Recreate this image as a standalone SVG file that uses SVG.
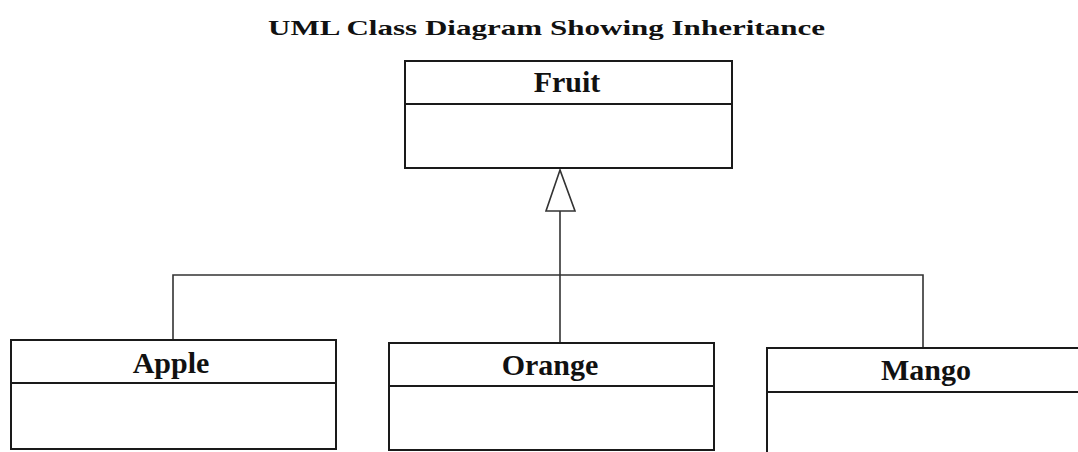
<svg xmlns="http://www.w3.org/2000/svg" width="1078" height="452" viewBox="0 0 1078 452">
<style>
.box{fill:#fff;stroke:#1a1a1a;stroke-width:2}
.div{stroke:#1a1a1a;stroke-width:2}
.lbl{font-family:"Liberation Serif","Times New Roman",serif;font-weight:bold;font-size:30px;fill:#111;text-anchor:middle}
.title{font-family:"Liberation Serif","DejaVu Serif",serif;font-weight:bold;font-size:21px;fill:#111;text-anchor:middle}
.con{fill:none;stroke:#333;stroke-width:1.6}
</style>
<rect width="1078" height="452" fill="#fff"/>
<text class="title" x="546.5" y="35" textLength="557" lengthAdjust="spacingAndGlyphs">UML Class Diagram Showing Inheritance</text>
<g id="connectors">
<polyline class="con" points="173,340 173,275 923,275 923,348"/>
<line class="con" x1="560" y1="343" x2="560" y2="211"/>
<polygon points="560,170 546,211 575,211" fill="#fff" stroke="#333" stroke-width="1.6"/>
</g>
<g id="fruit">
<rect class="box" x="405" y="61" width="327" height="107"/>
<line class="div" x1="405" y1="104" x2="732" y2="104"/>
<text class="lbl" x="567" y="92">Fruit</text>
</g>
<g id="apple">
<rect class="box" x="11" y="340" width="325" height="109"/>
<line class="div" x1="11" y1="383" x2="336" y2="383"/>
<text class="lbl" x="171" y="373">Apple</text>
</g>
<g id="orange">
<rect class="box" x="389" y="343" width="325" height="107"/>
<line class="div" x1="389" y1="386" x2="714" y2="386"/>
<text class="lbl" x="550" y="375">Orange</text>
</g>
<g id="mango">
<rect class="box" x="767" y="348" width="330" height="120"/>
<line class="div" x1="767" y1="392" x2="1078" y2="392"/>
<text class="lbl" x="926" y="380">Mango</text>
</g>
</svg>
